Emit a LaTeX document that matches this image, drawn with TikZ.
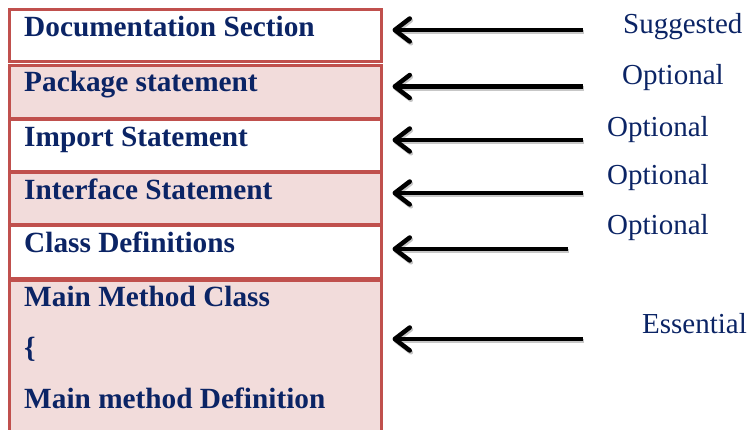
\documentclass[tikz,border=0pt]{standalone}
\usepackage{fontspec}
\setmainfont{Liberation Serif}
\usepackage{xcolor}
\usepackage{tikz}
\usetikzlibrary{arrows.meta,positioning}

\definecolor{boxred}{HTML}{C0504D}
\definecolor{boxpink}{HTML}{F2DCDB}
\definecolor{navy}{HTML}{0B2465}

\begin{document}
\begin{tikzpicture}[
	x=1pt, y=-1pt,
	part/.style={
		rectangle, draw=boxred, line width=3pt,
		minimum width=372pt, anchor=north west,
		inner sep=0pt, outer sep=0pt
	},
	pinkpart/.style={part, fill=boxpink},
	whitepart/.style={part, fill=white},
	ptext/.style={
		anchor=base west, inner sep=0pt,
		font=\fontsize{29.3}{34}\selectfont\bfseries, text=navy
	},
	tag/.style={anchor=base west, inner sep=0pt, font=\fontsize{29}{34}\selectfont, text=navy},
	arr/.style={-{Straight Barb[length=15pt,width=23pt,round]}, line width=4.5pt, black, shorten >=11pt},
	arrshadow/.style={arr, black!22, transform canvas={shift={(1.2pt,-1.8pt)}}}
	]
	\useasboundingbox (0,0) rectangle (750,430);
	%% ─── PROGRAM PARTS ──────────────────────────────────────────────
	\node[whitepart, minimum height=52.5pt] (doc)  at (9.5,9.5)  {};
	\node[pinkpart,  minimum height=53pt]   (pkg)  at (9.5,65.5) {};
	\node[whitepart, minimum height=51.5pt] (imp)  at (9.5,120)  {};
	\node[pinkpart,  minimum height=51.5pt] (intf) at (9.5,173)  {};
	\node[whitepart, minimum height=53pt]   (cls)  at (9.5,226)  {};
	\node[pinkpart,  minimum height=165pt]  (mainpart) at (9.5,281) {};
	
	\node[ptext] (tdoc)  at (24,37)  {Documentation Section};
	\node[ptext] (tpkg)  at (24,92)  {Package statement};
	\node[ptext] (timp)  at (24,147) {Import Statement};
	\node[ptext] (tintf) at (24,200) {Interface Statement};
	\node[ptext] (tcls)  at (24,253) {Class Definitions};
	\node[ptext] (tmain)  at (24,307) {Main Method Class};
	\node[ptext] (tbrace) at (24,357.5) {\char`\{};
	\node[ptext] (tmdef)  at (24,408) {Main method Definition};
	
	%% ─── STATUS LABELS AND POINTERS ─────────────────────────────────
	\node[tag] (lsug)  at (623,34)  {Suggested};
	\node[tag] (lopt1) at (622,85)  {Optional};
	\node[tag] (lopt2) at (607,136.5) {Optional};
	\node[tag] (lopt3) at (607,185) {Optional};
	\node[tag] (lopt4) at (607,235) {Optional};
	\node[tag] (less)  at (642,334) {Essential};
	
	\coordinate (a1) at (583,30);  \coordinate (a2) at (583,86.5);
	\coordinate (a3) at (583,140); \coordinate (a4) at (583,193);
	\coordinate (a5) at (568,249); \coordinate (a6) at (583,339);
	
	\draw[arrshadow] (a1) -- (a1 -| doc.east);  \draw[arr] (a1) -- (a1 -| doc.east);
	\draw[arrshadow] (a2) -- (a2 -| pkg.east);  \draw[arr] (a2) -- (a2 -| pkg.east);
	\draw[arrshadow] (a3) -- (a3 -| imp.east);  \draw[arr] (a3) -- (a3 -| imp.east);
	\draw[arrshadow] (a4) -- (a4 -| intf.east); \draw[arr] (a4) -- (a4 -| intf.east);
	\draw[arrshadow] (a5) -- (a5 -| cls.east);  \draw[arr] (a5) -- (a5 -| cls.east);
	\draw[arrshadow] (a6) -- (a6 -| mainpart.east); \draw[arr] (a6) -- (a6 -| mainpart.east);
\end{tikzpicture}
\end{document}
